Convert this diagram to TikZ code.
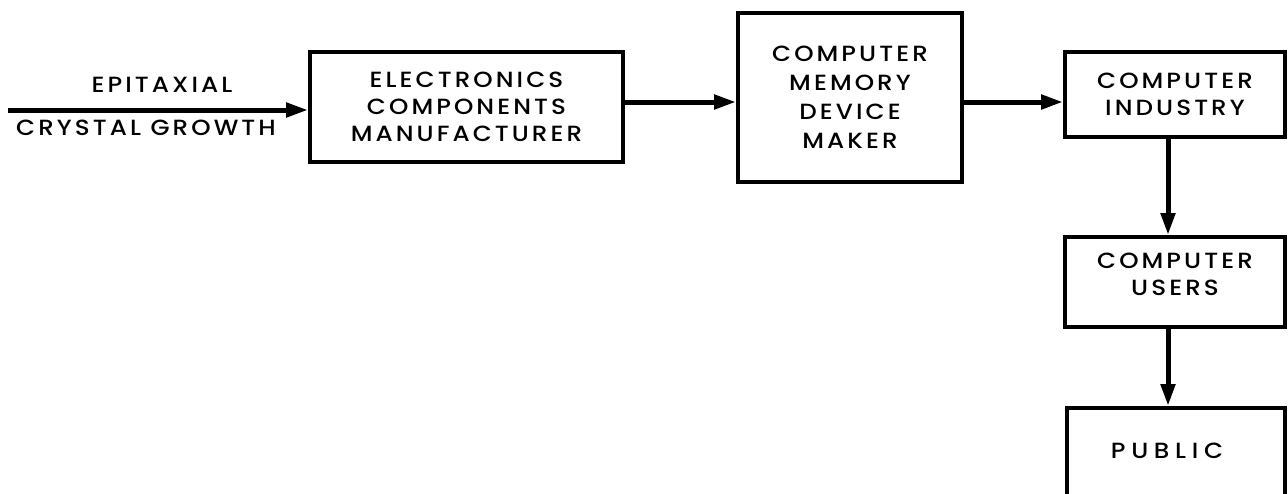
\documentclass[tikz,border=0pt]{standalone}
\usepackage{fontspec}
\setmainfont{Poppins}[LetterSpace=14, FakeStretch=1.12, BoldFont={* Medium}]
\usetikzlibrary{arrows.meta}
\begin{document}
\begin{tikzpicture}[x=1pt,y=-1pt,
  blk/.style={draw=black, line width=4pt, rectangle, align=center, inner sep=0pt,
    font=\fontsize{22}{27}\bfseries\selectfont},
  lbl/.style={align=center, inner sep=0pt, font=\fontsize{22}{27}\bfseries\selectfont},
  arr/.style={draw=black, line width=5pt, -{Triangle[length=22pt,width=14pt]}}]
\useasboundingbox (0,0) rectangle (1288,493);
\clip (0,0) rectangle (1288,493);
\node[blk, minimum width=313pt, minimum height=110pt] (b1) at (466.5,107)
  {ELECTRONICS\\COMPONENTS\\MANUFACTURER};
\node[blk, minimum width=224pt, minimum height=169pt, font=\fontsize{22}{29}\bfseries\selectfont] (b2) at (850,97.5)
  {COMPUTER\\MEMORY\\DEVICE\\MAKER};
\node[blk, minimum width=220pt, minimum height=85pt] (b3) at (1175,94.5)
  {COMPUTER\\INDUSTRY};
\node[blk, minimum width=220pt, minimum height=90pt, text depth=16pt] (b4) at (1175,282)
  {COMPUTER\\USERS};
\node[blk, minimum width=218pt, minimum height=110pt] (b5) at (1176,463) {};
\node[lbl, font=\fontsize{22}{27}\bfseries\addfontfeature{LetterSpace=26}\selectfont] (pub) at (1167,451) {PUBLIC};
\node[lbl] (epi) at (162,85) {EPITAXIAL};
\node[lbl] (cry) at (146,128) {CRYSTAL GROWTH};
\coordinate (s) at (8,110);
\draw[arr] (s) -- (s -| b1.west);
\coordinate (a2) at (623,102);
\draw[arr] (a2 -| b1.east) -- (a2 -| b2.west);
\coordinate (a3) at (962,102);
\draw[arr] (a3 -| b2.east) -- (a3 -| b3.west);
\coordinate (a4) at (1168,200);
\draw[arr] (a4 |- b3.south) -- (a4 |- b4.north);
\draw[arr] (a4 |- b4.south) -- (a4 |- b5.north);
\end{tikzpicture}
\end{document}
